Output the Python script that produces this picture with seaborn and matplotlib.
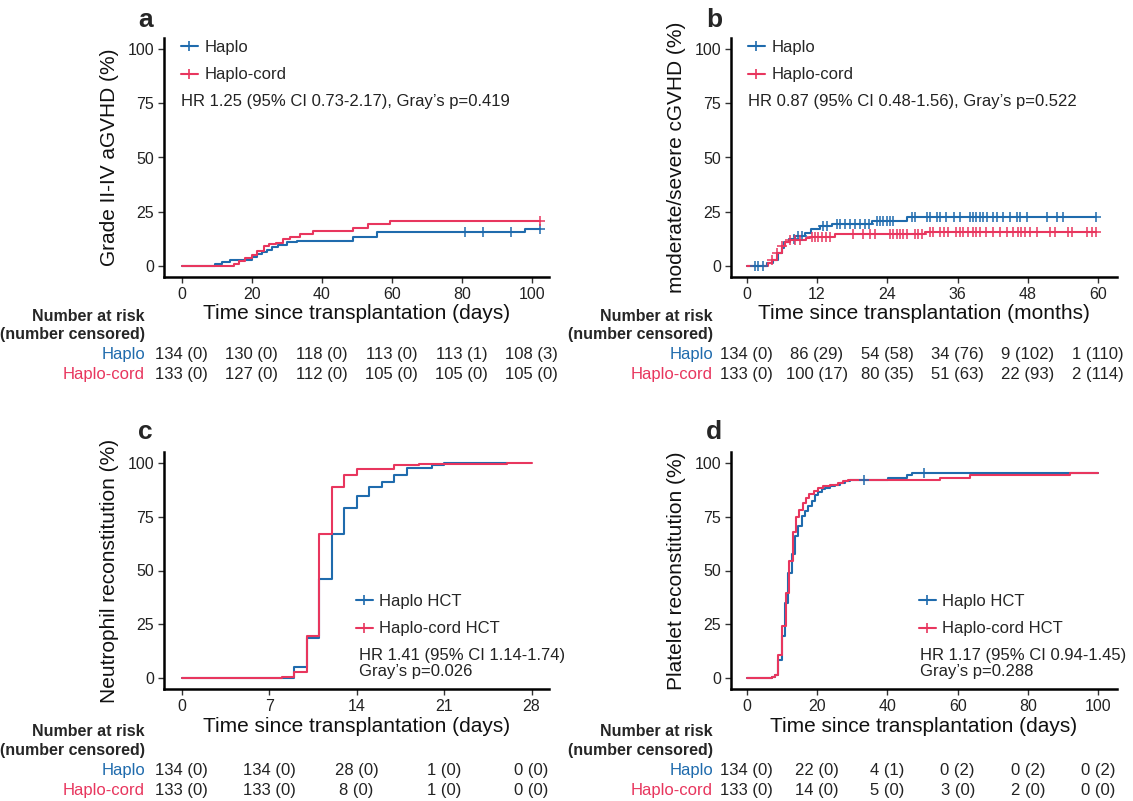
import numpy as np
import pandas as pd
import matplotlib
matplotlib.use("Agg")
import matplotlib.pyplot as plt
import matplotlib.transforms as mtransforms
from matplotlib.lines import Line2D
import seaborn as sns

# ---- data ----
# a: grade II-IV aGVHD, days
a_haplo_t = [0, 9.5, 11.4, 13.8, 20, 21.4, 22.9, 24.3, 25.7, 27.6, 30, 32.9, 49, 55.7, 98, 102.4]
a_haplo_y = [0, 0.8, 1.8, 2.6, 4.1, 5.6, 6.5, 7.6, 8.6, 9.8, 10.9, 11.7, 13.2, 15.5, 17.0, 17.0]
a_cord_t = [0, 14.8, 16.5, 18, 20, 21.5, 23.4, 25, 27, 29, 31, 33.8, 37.6, 49, 53.3, 59.5, 102.4]
a_cord_y = [0, 1.2, 2.5, 3.8, 5.2, 7.0, 9.2, 10.3, 10.8, 12.3, 13.4, 14.6, 16.4, 17.6, 19.4, 20.8, 20.8]
a_haplo_cens = [81, 86, 94, 102.4]
a_cord_cens = [102.4]

# b: moderate/severe cGVHD, months
b_haplo_t = [0, 3.4, 4.5, 5.4, 6.0, 6.3, 7.2, 8.3, 10, 10.9, 12.5, 14.5, 21.3, 27.3, 59.7]
b_haplo_y = [0, 1.5, 3.0, 6.0, 8.4, 10.9, 12.4, 13.9, 15.4, 17.0, 18.4, 19.5, 20.8, 22.4, 22.4]
b_cord_t = [0, 3.7, 4.3, 5.1, 6.0, 6.5, 7.4, 10.2, 10.8, 15.1, 30.4, 59.7]
b_cord_y = [0, 1.5, 3.0, 6.0, 9.1, 10.9, 11.8, 12.9, 13.6, 14.7, 15.6, 15.6]
b_haplo_cens = [1.4, 2.0, 2.8, 8.0, 8.8, 9.4, 13.1, 13.7, 15.4, 15.9, 16.8, 17.6, 18.5, 19.3,
                20.2, 20.8, 22.2, 22.7, 23.3, 23.9, 24.5, 25.0, 28.2, 28.7, 30.7, 31.3, 32.4,
                33.0, 34.1, 35.3, 36.4, 38.1, 38.7, 39.2, 39.8, 40.4, 41.0, 42.1, 42.7, 43.8,
                44.9, 46.1, 46.6, 47.8, 51.2, 52.9, 54.0, 59.7]
b_cord_cens = [4.3, 5.1, 6.0, 7.4, 8.2, 9.1, 11.1, 11.7, 12.2, 12.8, 13.6, 14.2, 18.2, 19.9,
               21.0, 21.9, 24.5, 25.0, 25.6, 26.2, 26.7, 27.3, 28.7, 29.3, 29.9, 31.3, 31.8,
               33.0, 33.6, 34.4, 35.8, 36.4, 37.0, 37.8, 38.7, 39.2, 39.8, 40.9, 42.1, 43.2,
               44.4, 45.5, 46.3, 46.9, 47.5, 48.4, 49.5, 51.8, 52.6, 54.9, 55.5, 58.0, 58.9, 59.7]

# c: neutrophil reconstitution, days
c_haplo_t = [0, 9, 10, 11, 12, 13, 14, 15, 16, 17, 18, 20, 21, 26]
c_haplo_y = [0, 5.1, 18.7, 46.2, 66.9, 79.0, 84.4, 88.6, 91.3, 94.4, 97.8, 98.8, 100, 100]
c_cord_t = [0, 8, 9, 10, 11, 12, 13, 14, 17, 19, 26, 28]
c_cord_y = [0, 0.8, 2.8, 19.8, 66.9, 88.6, 94.4, 96.9, 98.8, 99.5, 100, 100]
c_haplo_cens = []
c_cord_cens = []

# d: platelet reconstitution, days
d_haplo_t = [0, 7.1, 8.1, 9, 10, 10.9, 11.8, 12.8, 13.7, 14.7, 15.6, 16.6, 17.5, 18.5, 19.4,
             20.4, 21.3, 22.3, 23.7, 25.1, 26.5, 28, 29.4, 40.3, 45.5, 47, 100]
d_haplo_y = [0, 0.5, 1.5, 8.5, 19.4, 35.0, 49.0, 57.5, 66.0, 70.5, 75.4, 77.8, 80.0, 82.4, 85.0,
             86.6, 87.6, 88.3, 89.0, 89.7, 90.7, 91.4, 92.1, 92.8, 94.1, 95.2, 95.2]
d_cord_t = [0, 7.1, 8.1, 9, 10, 11.1, 12.1, 13.1, 14, 15, 15.9, 16.9, 17.8, 19, 20.4, 21.8,
            23.7, 26.1, 27.5, 28.9, 55, 63.5, 76.8, 92, 100]
d_cord_y = [0, 0.5, 1.5, 10.9, 24.1, 39.7, 54.4, 68.0, 74.6, 78.0, 81.3, 83.5, 85.5, 87.1, 88.2,
            89.0, 89.7, 90.7, 91.4, 92.1, 92.8, 94.1, 94.5, 95.3, 95.3]
d_haplo_cens = [33.4, 50.4]
d_cord_cens = []

# risk tables
a_risk_times = [0, 20, 40, 60, 80, 100]
a_risk_haplo = ["134 (0)", "130 (0)", "118 (0)", "113 (0)", "113 (1)", "108 (3)"]
a_risk_cord = ["133 (0)", "127 (0)", "112 (0)", "105 (0)", "105 (0)", "105 (0)"]
b_risk_times = [0, 12, 24, 36, 48, 60]
b_risk_haplo = ["134 (0)", "86 (29)", "54 (58)", "34 (76)", "9 (102)", "1 (110)"]
b_risk_cord = ["133 (0)", "100 (17)", "80 (35)", "51 (63)", "22 (93)", "2 (114)"]
c_risk_times = [0, 7, 14, 21, 28]
c_risk_haplo = ["134 (0)", "134 (0)", "28 (0)", "1 (0)", "0 (0)"]
c_risk_cord = ["133 (0)", "133 (0)", "8 (0)", "1 (0)", "0 (0)"]
d_risk_times = [0, 20, 40, 60, 80, 100]
d_risk_haplo = ["134 (0)", "22 (0)", "4 (1)", "0 (2)", "0 (2)", "0 (2)"]
d_risk_cord = ["133 (0)", "14 (0)", "5 (0)", "3 (0)", "2 (0)", "0 (0)"]

BLUE = "#1F6BAD"
RED = "#E8365E"

sns.set_theme(style="white")
plt.rcParams["font.family"] = ["Liberation Sans", "DejaVu Sans"]

W, H = 1133, 801
fig = plt.figure(figsize=(W / 100, H / 100), dpi=100)


def fx(x):
    return x / W


def fy(y):
    return 1 - y / H


def step_at(times, vals, t):
    i = np.searchsorted(times, t, side="right") - 1
    return vals[max(i, 0)]


def panel(rect, letter, ht, hy, ct, cy, hcens, ccens, xlim, xticks, xlabel, ylabel,
          names, leg_px, stat_txt, stat_px, risk_t, risk_h, risk_c, table_y, label_x, letter_x):
    ax = fig.add_axes(rect)
    df = pd.concat([
        pd.DataFrame({"t": ht, "y": hy, "grp": names[0]}),
        pd.DataFrame({"t": ct, "y": cy, "grp": names[1]}),
    ])
    sns.lineplot(data=df, x="t", y="y", hue="grp", palette=[BLUE, RED],
                 drawstyle="steps-post", estimator=None, sort=False,
                 linewidth=1.5, legend=False, ax=ax)
    for cens, t, v, col in [(hcens, ht, hy, BLUE), (ccens, ct, cy, RED)]:
        if cens:
            yy = [step_at(t, v, c) for c in cens]
            ax.plot(cens, yy, ls="none", marker="+", ms=6.5, mew=1.1, color=col)
    ax.set_xlim(*xlim)
    ax.set_ylim(-5, 105)
    ax.set_xticks(xticks)
    ax.set_yticks([0, 25, 50, 75, 100])
    ax.tick_params(axis="both", which="major", length=4, width=1, color="#333333",
                   labelsize=11.5, labelcolor="#222222", pad=3, bottom=True, left=True)
    ax.set_xlabel(xlabel, fontsize=15, color="#111111", labelpad=2)
    ax.set_ylabel(ylabel, fontsize=15, color="#111111", labelpad=6)
    sns.despine(ax=ax)
    for s in ["left", "bottom"]:
        ax.spines[s].set_linewidth(1.8)
        ax.spines[s].set_color("black")

    # legend
    handles = [Line2D([0], [0], color=BLUE, marker="+", ms=7, mew=1.2, lw=1.5),
               Line2D([0], [0], color=RED, marker="+", ms=7, mew=1.2, lw=1.5)]
    ax.legend(handles, names, loc="upper left", bbox_to_anchor=leg_px, bbox_transform=fig.transFigure,
              frameon=False, fontsize=12, handlelength=1.0, handletextpad=0.4, labelspacing=0.75,
              borderpad=0, borderaxespad=0)
    fig.text(fx(stat_px[0]), fy(stat_px[1]), stat_txt, fontsize=12, color="#222222",
             ha="left", va="top", linespacing=1.1)

    # panel letter
    fig.text(fx(letter_x), fy(table_y["letter"]), letter, fontsize=19, fontweight="bold",
             ha="left", va="center")

    # risk table
    tr = mtransforms.blended_transform_factory(ax.transData, fig.transFigure)
    fig.text(fx(label_x), fy(table_y["head1"]), "Number at risk", fontsize=11.5,
             fontweight="bold", ha="right", va="center")
    fig.text(fx(label_x), fy(table_y["head2"]), "(number censored)", fontsize=11.5,
             fontweight="bold", ha="right", va="center")
    fig.text(fx(label_x), fy(table_y["row1"]), names[0].replace(" HCT", ""), fontsize=12,
             color=BLUE, ha="right", va="center")
    fig.text(fx(label_x), fy(table_y["row2"]), names[1].replace(" HCT", ""), fontsize=12,
             color=RED, ha="right", va="center")
    for t, h, c in zip(risk_t, risk_h, risk_c):
        ax.text(t, fy(table_y["row1"]), h, transform=tr, fontsize=12, color="#222222",
                ha="center", va="center")
        ax.text(t, fy(table_y["row2"]), c, transform=tr, fontsize=12, color="#222222",
                ha="center", va="center")
    return ax


top_rows = {"letter": 20, "head1": 316, "head2": 335, "row1": 354, "row2": 374}
bot_rows = {"letter": 432, "head1": 731, "head2": 750, "row1": 771, "row2": 790}

left_top = [fx(164), fy(277), fx(549 - 164), (277 - 38) / H]
right_top = [fx(731), fy(277), fx(1117 - 731), (277 - 38) / H]
left_bot = [fx(164), fy(689), fx(549 - 164), (689 - 452) / H]
right_bot = [fx(731), fy(689), fx(1117 - 731), (689 - 452) / H]

panel(left_top, "a", a_haplo_t, a_haplo_y, a_cord_t, a_cord_y, a_haplo_cens, a_cord_cens,
      (-5.05, 104.9), a_risk_times, "Time since transplantation (days)", "Grade II-IV aGVHD (%)",
      ["Haplo", "Haplo-cord"], (fx(181), fy(40)),
      "HR 1.25 (95% CI 0.73-2.17), Gray\u2019s p=0.419", (181, 94),
      a_risk_times, a_risk_haplo, a_risk_cord, top_rows, 145, 138)

panel(right_top, "b", b_haplo_t, b_haplo_y, b_cord_t, b_cord_y, b_haplo_cens, b_cord_cens,
      (-2.68, 63.2), b_risk_times, "Time since transplantation (months)", "moderate/severe cGVHD (%)",
      ["Haplo", "Haplo-cord"], (fx(748), fy(40)),
      "HR 0.87 (95% CI 0.48-1.56), Gray\u2019s p=0.522", (748, 94),
      b_risk_times, b_risk_haplo, b_risk_cord, top_rows, 713, 706)

panel(left_bot, "c", c_haplo_t, c_haplo_y, c_cord_t, c_cord_y, c_haplo_cens, c_cord_cens,
      (-1.41, 29.4), c_risk_times, "Time since transplantation (days)", "Neutrophil reconstitution (%)",
      ["Haplo HCT", "Haplo-cord HCT"], (fx(356), fy(594)),
      "HR 1.41 (95% CI 1.14-1.74)\nGray\u2019s p=0.026", (359, 648),
      c_risk_times, c_risk_haplo, c_risk_cord, bot_rows, 145, 138)

panel(right_bot, "d", d_haplo_t, d_haplo_y, d_cord_t, d_cord_y, d_haplo_cens, d_cord_cens,
      (-4.47, 105.3), d_risk_times, "Time since transplantation (days)", "Platelet reconstitution (%)",
      ["Haplo HCT", "Haplo-cord HCT"], (fx(919), fy(594)),
      "HR 1.17 (95% CI 0.94-1.45)\nGray\u2019s p=0.288", (920, 648),
      d_risk_times, d_risk_haplo, d_risk_cord, bot_rows, 713, 706)

fig.savefig("out.png", dpi=100)
